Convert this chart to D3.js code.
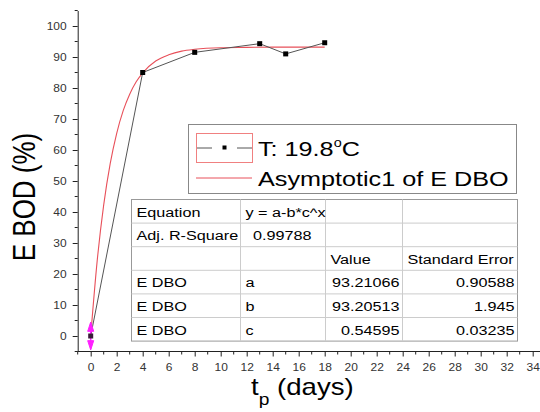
<!DOCTYPE html>
<html><head><meta charset="utf-8">
<script src="https://cdn.jsdelivr.net/npm/d3@7"></script>
<style>body{margin:0;background:#fff}svg{display:block}text{font-family:"Liberation Sans",Arial,sans-serif}</style>
</head><body>
<svg id="c" width="540" height="412"></svg>
<script>
// data
const days = [0, 4, 8, 13, 15, 18];
const ebod = [0, 85, 91.5, 94.3, 91, 94.6];
const fitDays = [0, 0.5, 1, 1.5, 2, 2.5, 3, 3.5, 4, 5, 6, 7, 8, 10, 12, 14, 16, 18];
const fitVals = [0, 24.3, 42.3, 55.6, 65.4, 72.7, 78.0, 82.0, 84.9, 88.7, 90.7, 91.9, 92.5, 93.0, 93.1, 93.2, 93.2, 93.2];
const xTickLabels = [0,2,4,6,8,10,12,14,16,18,20,22,24,26,28,30,32,34];
const yTickLabels = [0,10,20,30,40,50,60,70,80,90,100];
const tableRows = [
  ["Equation", "y = a-b*c^x", "", ""],
  ["Adj. R-Square", "0.99788", "", ""],
  ["", "", "Value", "Standard Error"],
  ["E DBO", "a", "93.21066", "0.90588"],
  ["E DBO", "b", "93.20513", "1.945"],
  ["E DBO", "c", "0.54595", "0.03235"]
];
const legendLabels = ["T: 19.8", "Asymptotic1 of E DBO"];

const SX = 1.2; // horizontal stretch of the original image text
const svg = d3.select("#c");
const x = d3.scaleLinear().domain([-1, 35]).range([77.7, 545.7]);
const y = d3.scaleLinear().domain([-5, 105]).range([351.5, 10.5]);

function stext(g, tx, ty, size, str, anchor) {
  return g.append("text").attr("transform", `translate(${tx},${ty}) scale(${SX},1)`)
    .attr("font-size", size).attr("text-anchor", anchor || "start").attr("fill", "#000").text(str);
}

// axes
const xAxis = d3.axisBottom(x).tickValues(xTickLabels).tickSize(5).tickPadding(5).tickSizeOuter(0);
const gx = svg.append("g").attr("transform", "translate(0,351.5)").call(xAxis);
gx.select(".domain").attr("stroke", "#222").attr("d", "M77.7,0H540");
gx.selectAll(".tick line").attr("stroke", "#222");
gx.selectAll("text").attr("font-size", 10).attr("fill", "#333")
  .attr("transform", d => `translate(0,0)`).each(function () {
    const t = d3.select(this); const yy = +t.attr("y");
    t.attr("y", null).attr("dy", null).attr("transform", `translate(0,${yy + 9}) scale(${SX},1)`);
  });
const minorX = d3.range(-1, 35, 2);
svg.append("g").selectAll("line").data(minorX).join("line")
  .attr("x1", d => x(d)).attr("x2", d => x(d)).attr("y1", 351.5).attr("y2", 354.5).attr("stroke", "#222");

const yAxis = d3.axisLeft(y).tickValues(yTickLabels).tickSize(5).tickPadding(5).tickSizeOuter(0);
const gy = svg.append("g").attr("transform", "translate(77.7,0)").call(yAxis);
gy.select(".domain").attr("stroke", "#222");
gy.selectAll(".tick line").attr("stroke", "#222");
gy.selectAll("text").attr("font-size", 10).attr("fill", "#333").each(function () {
  const t = d3.select(this); const xx = +t.attr("x");
  t.attr("x", null).attr("transform", `translate(${xx - 1},0) scale(${SX},1)`);
});
const minorY = d3.range(-5, 106, 10);
svg.append("g").selectAll("line").data(minorY).join("line")
  .attr("x1", 74.7).attr("x2", 77.7).attr("y1", d => y(d)).attr("y2", d => y(d)).attr("stroke", "#222");

// axis titles
svg.append("text").attr("transform", `translate(35,197) scale(${SX},1) rotate(-90)`).attr("text-anchor", "middle")
  .attr("font-size", 26).attr("fill", "#000").text("E BOD (%)");
const xt = svg.append("text").attr("transform", `translate(251,395) scale(${SX},1)`).attr("font-size", 23).attr("fill", "#000");
xt.append("tspan").text("t");
xt.append("tspan").attr("font-size", 16).attr("dy", 10).text("p");
xt.append("tspan").attr("dy", -10).text(" (days)");

// fit curve
const fitData = fitDays.map((d, i) => [d, fitVals[i]]);
svg.append("path").datum(fitData)
  .attr("d", d3.line().x(d => x(d[0])).y(d => y(d[1])).curve(d3.curveMonotoneX))
  .attr("fill", "none").attr("stroke", "#e8505a").attr("stroke-width", 1.1);

// data line
const pts = days.map((d, i) => [d, ebod[i]]);
svg.append("path").datum(pts)
  .attr("d", d3.line().x(d => x(d[0])).y(d => y(d[1])))
  .attr("fill", "none").attr("stroke", "#555").attr("stroke-width", 1);

// magenta arrows at first point
const m = svg.append("g").attr("fill", "#ff20ff").attr("stroke", "#ff20ff");
m.append("line").attr("x1", x(0)).attr("x2", x(0)).attr("y1", y(4)).attr("y2", y(-4)).attr("stroke-width", 1.5);
m.append("path").attr("d", `M${x(0)-3},${y(1.5)}L${x(0)},${y(4.5)}L${x(0)+3},${y(1.5)}Z`);
m.append("path").attr("d", `M${x(0)-3},${y(-1.5)}L${x(0)},${y(-4.5)}L${x(0)+3},${y(-1.5)}Z`);

svg.append("g").selectAll("rect").data(pts).join("rect")
  .attr("x", d => x(d[0]) - 2.5).attr("y", d => y(d[1]) - 2.5).attr("width", 5).attr("height", 5)
  .attr("fill", d => d[0] === 0 ? "#3a1a3a" : "#000");

// legend
const lg = svg.append("g");
lg.append("rect").attr("x", 188.5).attr("y", 124.5).attr("width", 328).attr("height", 69)
  .attr("fill", "#fff").attr("stroke", "#888");
lg.append("rect").attr("x", 196.5).attr("y", 133.5).attr("width", 56).attr("height", 29)
  .attr("fill", "none").attr("stroke", "#f08080");
lg.append("line").attr("x1", 197).attr("x2", 212).attr("y1", 148).attr("y2", 148).attr("stroke", "#555");
lg.append("line").attr("x1", 237).attr("x2", 252).attr("y1", 148).attr("y2", 148).attr("stroke", "#555");
lg.append("rect").attr("x", 222.5).attr("y", 145.5).attr("width", 4).attr("height", 4).attr("fill", "#000");
const t1 = lg.append("text").attr("transform", `translate(258,156) scale(${SX},1)`).attr("font-size", 21).attr("fill", "#000");
t1.append("tspan").text(legendLabels[0]);
t1.append("tspan").attr("font-size", 12).attr("dy", -9).text("o");
t1.append("tspan").attr("dy", 9).text("C");
lg.append("line").attr("x1", 196).attr("x2", 252).attr("y1", 178).attr("y2", 178).attr("stroke", "#e8505a");
stext(lg, 258, 186, 21, legendLabels[1]);

// table
const colX = [131.5, 240.5, 325.5, 402.5, 517.5];
const rowTop = 199.5, rowH = 23.6;
const tg = svg.append("g");
tg.append("rect").attr("x", colX[0]).attr("y", rowTop).attr("width", colX[4] - colX[0]).attr("height", rowH * 6)
  .attr("fill", "#fff").attr("stroke", "#999");
tableRows.forEach((r, i) => {
  if (i > 0) tg.append("line").attr("x1", colX[0]).attr("x2", colX[4]).attr("y1", rowTop + i * rowH).attr("y2", rowTop + i * rowH).attr("stroke", "#ccc");
});
[1, 2, 3].forEach(c => tg.append("line").attr("x1", colX[c]).attr("x2", colX[c]).attr("y1", rowTop).attr("y2", rowTop + rowH * 6).attr("stroke", "#ccc"));
tableRows.forEach((r, i) => {
  const yy = rowTop + i * rowH + 17;
  r.forEach((cell, j) => {
    if (!cell) return;
    const numeric = /^[0-9.]+$/.test(cell);
    if (numeric && j === 1) stext(tg, colX[2] - 14, yy, 13.5, cell, "end");
    else if (numeric) stext(tg, colX[j + 1] - 3, yy, 13.5, cell, "end");
    else stext(tg, colX[j] + 5, yy, 13.5, cell);
  });
});
</script>
</body></html>
